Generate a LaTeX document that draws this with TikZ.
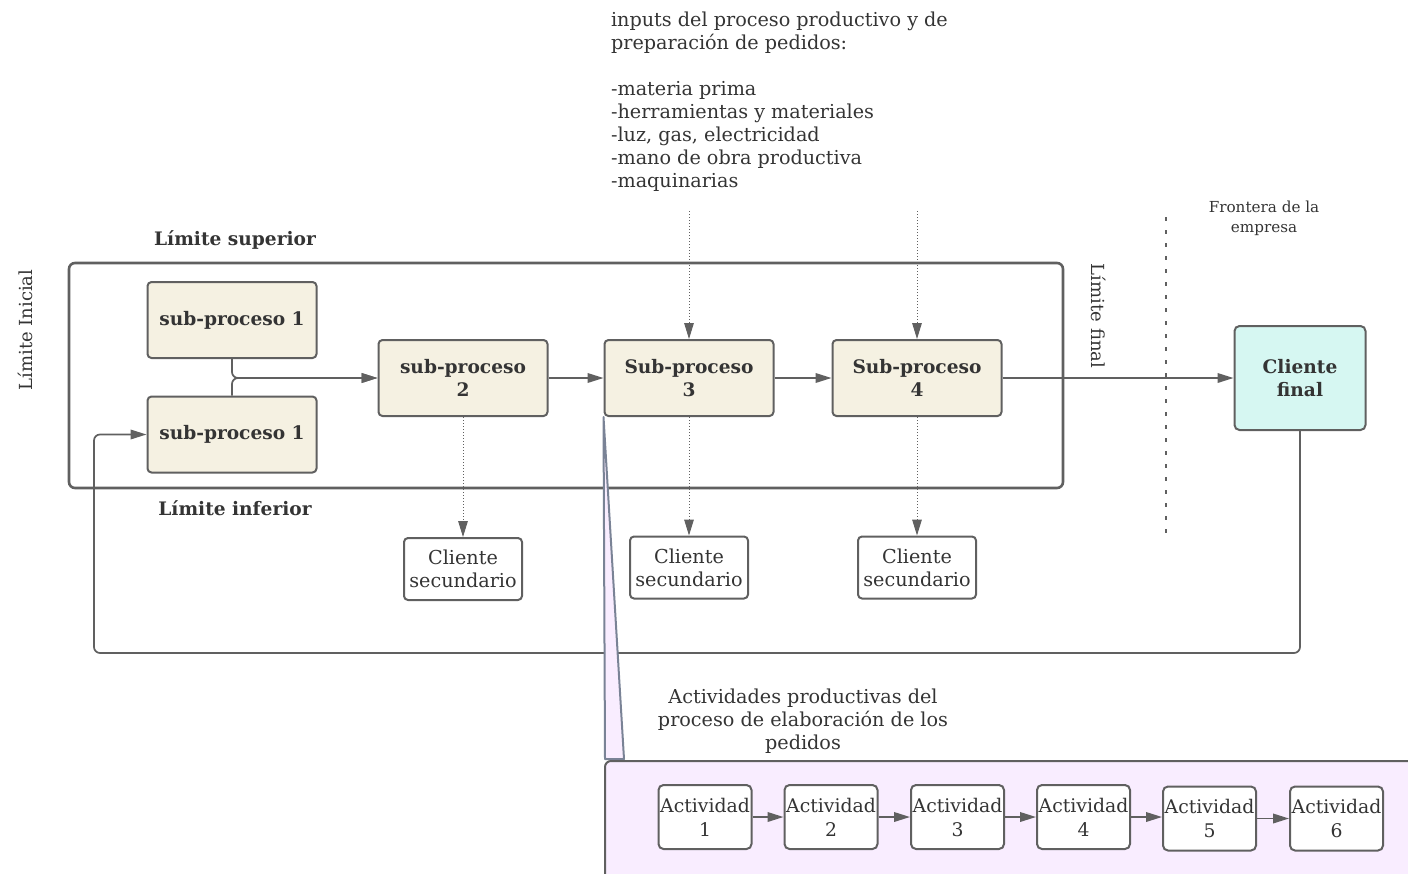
\documentclass[tikz,border=0pt]{standalone}
\usepackage{fontspec}
\setmainfont{DejaVu Serif}
\usetikzlibrary{arrows.meta}
\definecolor{linegray}{RGB}{96,96,96}
\definecolor{txtgray}{RGB}{52,52,52}
\definecolor{procfill}{RGB}{245,241,226}
\definecolor{clientfill}{RGB}{214,247,242}
\definecolor{zoomfill}{RGB}{249,237,255}
\definecolor{zoomedge}{RGB}{122,131,150}

\begin{document}
\begin{tikzpicture}[x=0.5pt,y=-0.5pt,
  every node/.style={text=txtgray,font=\fontsize{9.6}{11.5}\selectfont},
  bold/.style={font=\bfseries\fontsize{9.3}{11.5}\selectfont},
  side/.style={font=\fontsize{9}{11}\selectfont},
  proc/.style={bold,draw=linegray,line width=1pt,fill=procfill,rounded corners=2pt,align=center,minimum width=84.5pt,minimum height=38pt},
  client/.style={bold,draw=linegray,line width=1pt,fill=clientfill,rounded corners=2.5pt,align=center,minimum width=65.5pt,minimum height=52pt},
  second/.style={draw=linegray,line width=1pt,fill=white,rounded corners=2pt,align=center,inner sep=0pt,minimum width=59pt,minimum height=31pt},
  activity/.style={draw=linegray,line width=1pt,fill=white,rounded corners=2.5pt,align=center,inner sep=0pt,minimum width=46.5pt,minimum height=32pt,font=\fontsize{9.4}{12}\selectfont},
  conn/.style={draw=linegray,line width=0.85pt,-{Triangle[length=8pt,width=4.8pt]}},
  dotconn/.style={conn,line width=0.5pt,densely dotted}]
\useasboundingbox (0,0) rectangle (1408,873);
\clip (0,0) rectangle (1408,873);

\node[anchor=north west,align=left] (inputs) at (604,5) {inputs del proceso productivo y de\\preparación de pedidos:\\[11.5pt]-materia prima\\-herramientas y materiales\\-luz, gas, electricidad\\-mano de obra productiva\\-maquinarias};

\draw[linegray,line width=1.3pt,rounded corners=3pt] (69,263) rectangle (1063,488);
\node[bold] (sup) at (235,240) {Límite superior};
\node[bold] (inf) at (235,508) {Límite inferior};
\node[side,rotate=90] (ini) at (25,330) {Límite Inicial};
\node[side,rotate=-90] (fin) at (1099,316) {Límite final};

\coordinate (ftop) at (1166,217);
\coordinate (fbot) at (1166,541);
\draw[linegray,line width=1pt,dash pattern=on 2pt off 4.5pt] (ftop) -- (fbot);
\node[align=center,font=\fontsize{7.6}{10}\selectfont] (front) at (1264,218) {Frontera de la\\empresa};

\node[proc] (sp1a) at (232,320) {sub-proceso 1};
\node[proc] (sp1b) at (232,434.5) {sub-proceso 1};
\node[proc] (sp2) at (463,378) {sub-proceso\\2};
\node[proc] (sp3) at (689,378) {Sub-proceso\\3};
\node[proc] (sp4) at (917,378) {Sub-proceso\\4};
\node[client] (cf) at (1300,378) {Cliente\\final};

\node[second] (sec2) at (463,569) {Cliente\\secundario};
\node[second] (sec3) at (689,567.5) {Cliente\\secundario};
\node[second] (sec4) at (917,567.5) {Cliente\\secundario};

\path (sp3.north) ++(0,-128) coordinate (in3);
\path (sp4.north) ++(0,-128) coordinate (in4);
\coordinate (loop) at (94,653);

\draw[conn,rounded corners=3pt] (sp1a.south) |- (sp2.west);
\draw[conn,rounded corners=3pt] (sp1b.north) |- (sp2.west);
\draw[conn] (sp2) -- (sp3);
\draw[conn] (sp3) -- (sp4);
\draw[conn] (sp4) -- (cf);
\draw[conn,rounded corners=3pt] (cf.south) |- (loop) |- (sp1b.west);
\draw[dotconn] (in3) -- (sp3.north);
\draw[dotconn] (in4) -- (sp4.north);
\draw[dotconn] (sp2) -- (sec2);
\draw[dotconn] (sp3) -- (sec3);
\draw[dotconn] (sp4) -- (sec4);

\node[align=center] (actlbl) at (803,721) {Actividades productivas del\\proceso de elaboración de los\\pedidos};

\draw[zoomedge,fill=zoomfill,line width=1pt,line join=round] (sp3.south west) -- (624,759) -- (605,759) -- cycle;
\draw[linegray,fill=zoomfill,line width=1pt,rounded corners=3pt] (605,761) rectangle (1440,900);

\node[activity] (act1) at (705,817) {Actividad\\1};
\node[activity] (act2) at (831,817) {Actividad\\2};
\node[activity] (act3) at (957.5,817) {Actividad\\3};
\node[activity] (act4) at (1083.5,817) {Actividad\\4};
\node[activity] (act5) at (1209.5,818.5) {Actividad\\5};
\node[activity] (act6) at (1336.5,818.5) {Actividad\\6};
\draw[conn] (act1) -- (act2);
\draw[conn] (act2) -- (act3);
\draw[conn] (act3) -- (act4);
\draw[conn] (act4.east) -- (act4.east -| act5.west);
\draw[conn] (act5) -- (act6);
\end{tikzpicture}
\end{document}
